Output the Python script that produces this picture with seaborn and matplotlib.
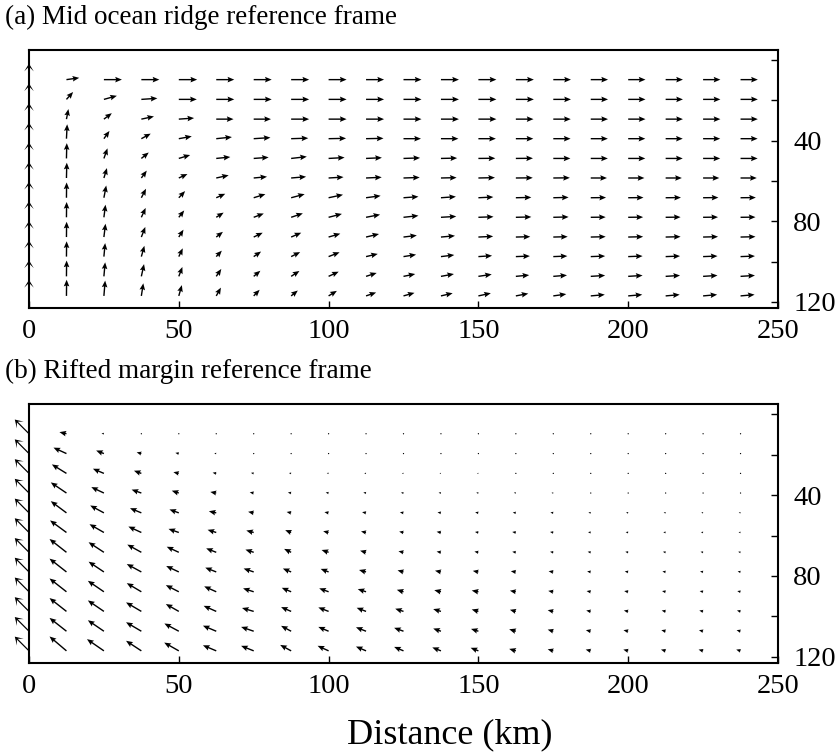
import numpy as np
import pandas as pd
import matplotlib
matplotlib.use("Agg")
import matplotlib.pyplot as plt
import seaborn as sns

sns.set_style("white")
plt.rcParams['font.family'] = ['Liberation Serif', 'DejaVu Serif']

# ---- grid (km) ----
x_km = [0, 12.5, 25, 37.5, 50, 62.5, 75, 87.5, 100, 112.5, 125, 137.5,
        150, 162.5, 175, 187.5, 200, 212.5, 225, 237.5]
depth_km = [9.7, 19.5, 29.3, 39.0, 48.8, 58.5, 68.3, 78.0, 87.8, 97.5, 107.3, 117.0]

# ---- (a) mid ocean ridge frame: horizontal (u) and upward (w) components ----
a_u = [
 [0, .71, 1.0, 1.0, 1.02, 1.0, 1.0, 1.0, 1.0, 1.0, 1.0, 1.0, 1.0, 1.0, .98, .96, .96, .96, .96, .96],
 [0, .37, .72, .89, 1.0, 1.0, 1.0, 1.0, 1.0, 1.0, 1.0, 1.0, 1.0, 1.0, .98, .96, .96, .96, .96, .96],
 [0, .11, .44, .70, .85, .96, .96, 1.0, 1.0, 1.0, 1.0, 1.0, 1.0, .98, .97, .96, .96, .96, .96, .96],
 [0, .04, .31, .52, .72, .87, .93, .95, .97, .97, .97, .97, .97, .97, .96, .95, .95, .95, .95, .95],
 [0, .02, .20, .41, .63, .78, .83, .87, .89, .88, .92, .90, .94, .95, .95, .95, .95, .95, .95, .95],
 [0, .02, .17, .30, .48, .69, .74, .83, .83, .87, .90, .87, .92, .94, .92, .90, .90, .90, .90, .90],
 [0, .01, .13, .26, .35, .50, .65, .75, .80, .81, .83, .83, .83, .86, .85, .85, .85, .85, .85, .85],
 [0, .01, .09, .24, .30, .41, .56, .65, .74, .78, .83, .85, .84, .86, .85, .83, .83, .83, .83, .83],
 [0, .01, .09, .22, .26, .37, .50, .56, .65, .72, .74, .78, .82, .80, .80, .83, .83, .83, .83, .83],
 [0, .01, .07, .17, .22, .31, .41, .50, .61, .65, .70, .74, .76, .78, .78, .80, .80, .80, .80, .80],
 [0, .01, .07, .15, .20, .28, .37, .46, .56, .59, .65, .72, .74, .74, .76, .80, .80, .80, .80, .80],
 [0, .01, .07, .11, .17, .26, .33, .37, .46, .56, .61, .65, .69, .69, .72, .78, .78, .78, .78, .78],
]
a_w = [
 [.89, .10, 0, 0, 0, 0, 0, 0, 0, 0, 0, 0, 0, 0, 0, 0, 0, 0, 0, 0],
 [.89, .41, .20, .06, 0, 0, 0, 0, 0, 0, 0, 0, 0, 0, 0, 0, 0, 0, 0, 0],
 [.89, .56, .33, .15, .06, 0, 0, 0, 0, 0, 0, 0, 0, 0, 0, 0, 0, 0, 0, 0],
 [.89, .80, .43, .28, .13, .09, .06, .03, .02, .02, 0, 0, 0, 0, 0, 0, 0, 0, 0, 0],
 [.89, .85, .56, .33, .19, .08, .06, .10, .05, .04, .03, .02, .01, .01, 0, 0, 0, 0, 0, 0],
 [.89, .85, .55, .41, .22, .15, .07, .07, .05, .04, .03, .02, .02, .01, .01, 0, 0, 0, 0, 0],
 [.89, .85, .68, .50, .37, .22, .20, .20, .17, .11, .06, .06, .04, .02, .02, .01, .01, .01, .01, .01],
 [.89, .85, .70, .52, .38, .26, .21, .22, .19, .15, .09, .05, .03, .02, .02, .01, .01, .01, .01, .01],
 [.89, .85, .74, .56, .41, .29, .24, .24, .19, .17, .09, .07, .04, .02, .02, .02, .02, .02, .02, .02],
 [.89, .85, .75, .60, .46, .33, .28, .25, .24, .15, .11, .09, .05, .03, .03, .03, .03, .03, .03, .03],
 [.89, .88, .78, .68, .52, .41, .31, .30, .26, .19, .13, .13, .11, .07, .06, .05, .05, .05, .05, .05],
 [.89, .90, .85, .70, .60, .46, .34, .30, .28, .19, .17, .15, .15, .13, .10, .07, .07, .07, .07, .07],
]

# ---- (b) rifted margin frame ----
b_u = [
 [-.79, -.39, -.13, -.04, -.03, -.03, -.03, -.03, -.03, -.03, -.03, -.03, -.03, -.03, -.03, -.02, -.02, -.02, -.02, -.02],
 [-.79, -.72, -.43, -.26, -.19, -.11, -.06, -.05, -.05, -.04, -.04, -.04, -.03, -.03, -.03, -.03, -.03, -.03, -.03, -.03],
 [-.79, -.81, -.61, -.41, -.30, -.20, -.15, -.12, -.10, -.10, -.09, -.08, -.08, -.07, -.07, -.05, -.05, -.05, -.05, -.05],
 [-.79, -.87, -.70, -.54, -.39, -.33, -.22, -.18, -.16, -.15, -.14, -.13, -.12, -.11, -.10, -.07, -.07, -.07, -.07, -.07],
 [-.79, -.87, -.76, -.63, -.52, -.41, -.31, -.25, -.23, -.22, -.20, -.19, -.18, -.17, -.16, -.13, -.12, -.11, -.10, -.10],
 [-.79, -.91, -.80, -.72, -.57, -.48, -.41, -.33, -.30, -.28, -.24, -.24, -.19, -.20, -.18, -.15, -.14, -.13, -.12, -.11],
 [-.79, -.94, -.85, -.78, -.67, -.56, -.46, -.39, -.39, -.33, -.28, -.24, -.22, -.20, -.18, -.17, -.16, -.15, -.14, -.13],
 [-.79, -.94, -.85, -.81, -.70, -.61, -.56, -.46, -.44, -.39, -.33, -.33, -.31, -.28, -.26, -.20, -.19, -.18, -.17, -.16],
 [-.79, -.94, -.89, -.81, -.72, -.67, -.59, -.52, -.52, -.46, -.37, -.37, -.37, -.33, -.28, -.23, -.22, -.20, -.19, -.18],
 [-.79, -.94, -.89, -.85, -.72, -.70, -.65, -.56, -.57, -.52, -.46, -.43, -.37, -.33, -.31, -.25, -.24, -.22, -.21, -.20],
 [-.79, -.94, -.89, -.85, -.80, -.74, -.70, -.56, -.57, -.56, -.52, -.43, -.41, -.37, -.31, -.27, -.26, -.24, -.23, -.22],
 [-.79, -.94, -.94, -.85, -.81, -.74, -.70, -.61, -.61, -.56, -.52, -.48, -.43, -.37, -.31, -.28, -.27, -.26, -.25, -.24],
]
b_w = [
 [.79, .09, .02, 0, 0, 0, 0, 0, 0, 0, 0, 0, 0, 0, 0, 0, 0, 0, 0, 0],
 [.79, .33, .17, .07, .04, .02, .01, 0, 0, 0, 0, 0, 0, 0, 0, 0, 0, 0, 0, 0],
 [.79, .50, .26, .15, .07, .04, .03, .02, .02, .01, .01, .01, .01, .01, .01, 0, 0, 0, 0, 0],
 [.79, .59, .33, .19, .13, .06, .04, .03, .03, .03, .02, .02, .02, .02, .01, .01, .01, .01, .01, .01],
 [.79, .65, .41, .26, .19, .09, .06, .05, .04, .04, .03, .03, .03, .02, .02, .02, .02, .02, .02, .02],
 [.79, .67, .46, .33, .20, .15, .11, .13, .07, .06, .05, .04, .03, .03, .03, .02, .02, .02, .02, .02],
 [.79, .74, .56, .43, .31, .22, .15, .19, .13, .09, .06, .04, .04, .03, .03, .03, .03, .03, .03, .03],
 [.79, .74, .57, .44, .33, .24, .19, .19, .17, .11, .09, .07, .06, .04, .04, .03, .03, .03, .03, .03],
 [.79, .74, .61, .48, .37, .30, .19, .22, .19, .15, .11, .09, .07, .06, .05, .04, .04, .04, .04, .04],
 [.79, .74, .61, .50, .41, .31, .19, .24, .22, .20, .15, .13, .11, .09, .07, .05, .05, .05, .05, .05],
 [.79, .74, .61, .50, .43, .31, .24, .30, .24, .22, .19, .15, .13, .11, .09, .06, .06, .06, .06, .06],
 [.79, .80, .65, .56, .46, .31, .28, .33, .28, .24, .22, .19, .17, .11, .09, .07, .07, .07, .07, .07],
]

titles = ["(a) Mid ocean ridge reference frame", "(b) Rifted margin reference frame"]
xlabel = "Distance (km)"
xticks = [0, 50, 100, 150, 200, 250]
yticks = [0, 20, 40, 60, 80, 100, 120]
ytick_labels = ["", "", "40", "", "80", "", "120"]


def to_frame(u, w):
    X, D = np.meshgrid(np.array(x_km), np.array(depth_km))
    return pd.DataFrame({"x": X.ravel(), "depth": D.ravel(),
                         "u": np.array(u).ravel(), "w": np.array(w).ravel()})


W_, H_ = 838, 752
fig = plt.figure(figsize=(W_ / 100, H_ / 100), dpi=100)
boxes = [(29, 50, 778, 308), (29, 404, 778, 663)]
SCALE = 1 / 0.18  # data units per inch

for k, (panel, (l, t, r, b)) in enumerate(zip([(a_u, a_w), (b_u, b_w)], boxes)):
    ax = fig.add_axes([l / W_, 1 - b / H_, (r - l) / W_, (b - t) / H_])
    df = to_frame(*panel)
    inner = df[df.x > 0]
    edge = df[df.x == 0]
    ax.quiver(inner.x, inner.depth, inner.u, inner.w, angles='uv',
              scale_units='inches', scale=SCALE, units='inches', width=0.014,
              headwidth=4.0, headlength=4.8, headaxislength=4.2,
              color='black', pivot='tail', zorder=3)
    ax.quiver(edge.x, edge.depth, edge.u, edge.w, angles='uv',
              scale_units='inches', scale=SCALE, units='inches', width=0.012,
              headwidth=8, headlength=6.5, headaxislength=3.0,
              color='black', pivot='tail', zorder=3, clip_on=False)
    ax.set_xlim(0, 250)
    ax.set_ylim(123, -5)
    ax.set_xticks(xticks)
    ax.set_yticks(yticks)
    ax.set_yticklabels(ytick_labels)
    ax.yaxis.tick_right()
    ax.tick_params(axis='x', direction='in', length=5, width=1, bottom=True, top=False,
                   labelsize=20.5, pad=8, colors='black')
    ax.tick_params(axis='y', direction='in', length=5, width=1, right=True, left=False,
                   labelright=True, labelleft=False, labelsize=20.5, pad=11, colors='black')
    for s in ax.spines.values():
        s.set_linewidth(1.5)
        s.set_color('black')
        s.set_visible(True)
    ax.grid(False)
    fig.text(5 / W_, 1 - (t - 33) / H_, titles[k], fontsize=19.5,
             ha='left', va='center', color='black')

fig.text(450 / W_, 1 - 735 / H_, xlabel, fontsize=26, ha='center', va='center', color='black')

fig.savefig("out.png", dpi=100)
